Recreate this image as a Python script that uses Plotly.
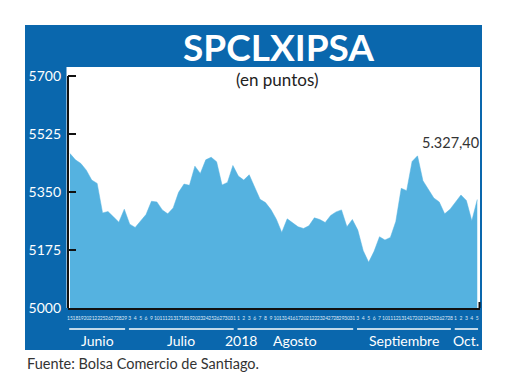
import plotly.graph_objects as go

# ---------------- data ----------------
months = ["Junio", "Julio", "Agosto", "Septiembre", "Oct."]
days_jun = [15, 18, 19, 20, 21, 22, 25, 26, 27, 28, 29]
days_jul = [3, 4, 5, 6, 9, 10, 11, 12, 13, 17, 18, 19, 20, 23, 24, 25, 26, 27, 30, 31]
days_aug = [1, 2, 3, 6, 7, 8, 9, 10, 13, 14, 16, 17, 20, 21, 22, 23, 24, 27, 28, 29, 30, 31]
days_sep = [3, 4, 5, 6, 7, 10, 11, 12, 13, 14, 17, 20, 21, 24, 25, 26, 27, 28]
days_oct = [1, 2, 3, 4, 5]

values = [
    5466, 5447, 5436, 5416, 5386, 5376, 5287, 5291, 5275, 5259, 5298,
    5253, 5243, 5263, 5282, 5322, 5320, 5296, 5284, 5302, 5349, 5374,
    5370, 5428, 5406, 5447, 5455, 5441, 5371, 5379, 5430, 5398, 5386,
    5402, 5364, 5328, 5318, 5297, 5268, 5228, 5269, 5256, 5245, 5240,
    5248, 5272, 5267, 5258, 5279, 5290, 5296, 5245, 5267, 5235, 5173,
    5138, 5171, 5215, 5205, 5213, 5261, 5361, 5354, 5442, 5459, 5384,
    5359, 5332, 5320, 5284, 5298, 5319, 5341, 5324, 5263, 5327.40,
]
y_ticks = [5000, 5175, 5350, 5525, 5700]
year_label = "2018"
title_text = "SPCLXIPSA"
subtitle_text = "(en puntos)"
source_text = "Fuente: Bolsa Comercio de Santiago."

# ---------------- derived ----------------
month_days = [days_jun, days_jul, days_aug, days_sep, days_oct]
day_labels = [str(d) for m in month_days for d in m]
x = list(range(len(values)))

spans = []
start = 0
for m in month_days:
    spans.append((start, start + len(m) - 1))
    start += len(m)

OFF = 8  # page body margin
W, H = 520 - OFF, 390 - OFF
L_PX, R_PX, T_PX, B_PX = 68, 480, 67, 308  # plot area in window pixels
ML, MT = L_PX - OFF, T_PX - OFF
MR, MB = W - (R_PX - OFF), H - (B_PX - OFF)
PW, PH = R_PX - L_PX, B_PX - T_PX


def px(xp):
    return (xp - L_PX) / PW


def py(yp):
    return (B_PX - yp) / PH


BLUE = "#0A67AD"
FILL = "#55B2E0"
FONT = "Lato"

fig = go.Figure()
fig.add_trace(go.Scatter(
    x=x, y=values, mode="lines", fill="tozeroy",
    line=dict(color=FILL, width=0.5), fillcolor=FILL, hoverinfo="skip",
))

shapes = [
    dict(type="rect", xref="paper", yref="paper", x0=px(25), x1=px(482),
         y0=py(350), y1=py(25), fillcolor=BLUE, line=dict(width=0), layer="below"),
    dict(type="rect", xref="paper", yref="paper", x0=px(66.5), x1=1,
         y0=0, y1=1, fillcolor="white", line=dict(width=0), layer="below"),
    dict(type="line", xref="paper", yref="y", x0=0, x1=0,
         y0=min(y_ticks), y1=max(y_ticks), line=dict(color="#111", width=2)),
    # small end hook on the x axis
    dict(type="line", xref="paper", yref="paper", x0=px(479.5), x1=px(479.5),
         y0=py(308), y1=py(302), line=dict(color="#111", width=2)),
]
annotations = []
for (a, b), name in zip(spans, months):
    shapes.append(dict(type="line", xref="x", yref="paper", x0=a - 0.15, x1=b + 0.15,
                       y0=py(329), y1=py(329), line=dict(color="white", width=1.5)))
    annotations.append(dict(x=(a + b) / 2, y=py(340), xref="x", yref="paper",
                            text=name, showarrow=False, xanchor="center", yanchor="middle",
                            font=dict(family=FONT, size=14, color="white")))
annotations.append(dict(x=spans[1][1] + 1.5, y=py(340), xref="x", yref="paper",
                        text=year_label, showarrow=False, xanchor="center", yanchor="middle",
                        font=dict(family=FONT, size=14, color="white")))
annotations.append(dict(x=px(278), y=py(46), xref="paper", yref="paper",
                        text="<b>" + title_text + "</b>", showarrow=False,
                        xanchor="center", yanchor="middle",
                        font=dict(family=FONT, size=37, color="white")))
annotations.append(dict(x=px(277), y=py(79), xref="paper", yref="paper",
                        text=subtitle_text, showarrow=False,
                        xanchor="center", yanchor="middle",
                        font=dict(family=FONT, size=17, color="#222")))
annotations.append(dict(x=px(25), y=py(363), xref="paper", yref="paper",
                        text=source_text, showarrow=False,
                        xanchor="left", yanchor="middle",
                        font=dict(family=FONT, size=14.5, color="#333")))
last = values[-1]
last_txt = f"{last:,.2f}".replace(",", "X").replace(".", ",").replace("X", ".")
annotations.append(dict(x=x[-1], y=last, xref="x", yref="y",
                        text=last_txt, showarrow=False, xanchor="right", yanchor="middle",
                        xshift=4, yshift=57,
                        font=dict(family=FONT, size=14.5, color="#333")))

ppi = 5.43  # pixels per trading day
x0 = (L_PX - 70) / ppi
x1 = (R_PX - 70) / ppi
y_lo = min(y_ticks)
upp = (max(y_ticks) - y_lo) / (B_PX - 76)
y_hi = max(y_ticks) + (76 - T_PX) * upp

fig.update_layout(
    width=W, height=H,
    margin=dict(l=ML, r=MR, t=MT, b=MB, pad=0),
    paper_bgcolor="white", plot_bgcolor="white",
    showlegend=False,
    font=dict(family=FONT),
    shapes=shapes, annotations=annotations,
    xaxis=dict(range=[x0, x1], tickmode="array", tickvals=x, ticktext=day_labels,
               tickangle=0, tickfont=dict(family=FONT, size=5, color="#dfe8f5"),
               showgrid=False, zeroline=False, showline=True, linecolor="#111",
               linewidth=2, ticks="", ticklabelstandoff=4),
    yaxis=dict(range=[y_lo, y_hi], tickmode="array", tickvals=y_ticks,
               ticktext=[str(v) for v in y_ticks],
               tickfont=dict(family=FONT, size=14, color="white"),
               showgrid=False, zeroline=False, showline=False,
               ticks="inside", ticklen=8, tickwidth=2, tickcolor="#111",
               ticklabelstandoff=6),
)

fig.write_html("out.html")
